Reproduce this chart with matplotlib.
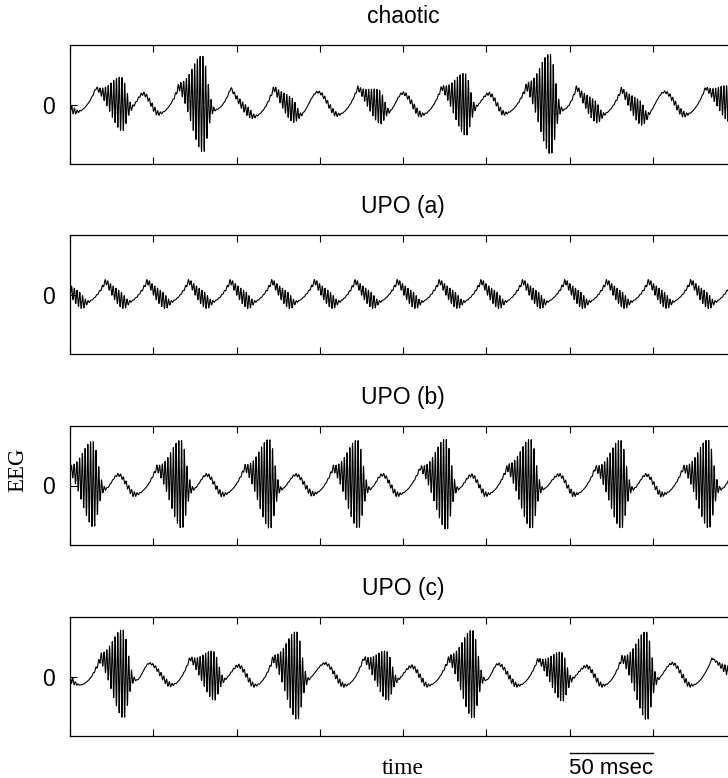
import numpy as np
import matplotlib
matplotlib.use("Agg")
import matplotlib.pyplot as plt

plt.rcParams['font.family'] = ['Liberation Sans', 'DejaVu Sans']

# ---------------- data (time in msec, EEG in arbitrary units) ----------------
titles = ["chaotic", "UPO (a)", "UPO (b)", "UPO (c)"]
x_ticks = [0, 50, 100, 150, 200, 250, 300, 350, 400]

# slow-wave knots: time, value, kind (c = sharp peak, h = rounded peak, t = trough)
chaotic_t = [-8, 4.2, 15.6, 36.6, 43.8, 53.4, 65.4, 87.0, 96.6, 110.4, 122.4, 138.0,
             148.8, 160.8, 172.8, 191.4, 199.8, 211.2, 223.2, 242.4, 251.4, 261.0,
             274.2, 295.8, 304.2, 318.6, 331.2, 345.6, 357.0, 369.6, 381.6, 405.0]
chaotic_v = [0.10, -0.12, 0.28, -0.05, 0.18, -0.15, 0.31, -0.09, 0.28, -0.20, 0.28, -0.18,
             0.21, -0.17, 0.28, -0.12, 0.19, -0.17, 0.29, -0.06, 0.18, -0.15,
             0.31, -0.09, 0.29, -0.18, 0.26, -0.20, 0.21, -0.17, 0.28, -0.10]
chaotic_k = "htcthtctctcthtcthtcthtctctcthtct"
chaotic_burst_t = [1, 31.2, 51, 79.8, 107, 133.5, 158, 186, 208.5, 237.6, 258.5,
                   288.6, 315.5, 342.5, 367, 396]
chaotic_burst_a = [0.06, 0.45, 0.05, 0.81, 0.08, 0.20, 0.05, 0.28, 0.06, 0.52, 0.05,
                   0.84, 0.18, 0.20, 0.06, 0.30]

upoa_t = [-3.6, 8.4, 21.4, 33.4, 46.4, 58.4, 71.4, 83.4, 96.4, 108.4, 121.4, 133.4,
          147.0, 159.0, 171.4, 183.4, 196.8, 208.8, 222.0, 234.0, 247.0, 259.0,
          272.0, 284.0, 297.4, 309.4, 322.4, 334.4, 347.6, 359.6, 373.0, 385.0,
          398.0, 410.0]
upoa_v = [0.23, -0.14] * 17
upoa_k = "ct" * 17
upoa_burst_t = [5.9, 30.9, 55.9, 80.9, 105.9, 130.9, 156.5, 180.9, 206.3, 231.5,
                256.5, 281.5, 306.9, 331.9, 357.1, 382.5, 407.5]
upoa_burst_a = [0.13] * 17

upob_t = [-1.0, 21, 29, 39, 52, 74, 82, 91.8, 105, 127, 135.6, 146, 158, 180, 187.6, 197,
          210.4, 233, 241, 250, 262.6, 284, 293.6, 303, 315.6, 338, 346, 355.6,
          368.4, 391, 399, 409]
upob_v = [0.30, -0.06, 0.18, -0.15, 0.30, -0.06, 0.18, -0.15, 0.31, -0.06, 0.18, -0.14,
          0.30, -0.06, 0.18, -0.15, 0.30, -0.06, 0.17, -0.15, 0.31, -0.06, 0.18, -0.15,
          0.30, -0.06, 0.18, -0.15, 0.30, -0.06, 0.18, -0.15]
upob_k = "cthtcthtcthtcthtcthtcthtcthtctht"
upob_burst_t = [14, 37, 67, 90, 120, 144, 173, 195, 226, 248, 277, 301, 331, 354, 383.6, 407]
upob_burst_a = [0.72, 0.05, 0.74, 0.05, 0.75, 0.05, 0.74, 0.05, 0.76, 0.05, 0.75, 0.05,
                0.74, 0.05, 0.74, 0.05]

upoc_t = [-10, 6, 18.4, 40, 47.6, 61, 72, 92, 101, 111, 122, 142, 153, 165,
          176.4, 196, 205, 215, 227.6, 250, 257, 269, 281, 300, 310, 320,
          331.4, 352, 361.6, 373, 385.6, 412]
upoc_v = [0.18, -0.14, 0.32, -0.06, 0.22, -0.14, 0.31, -0.06, 0.18, -0.15, 0.31, -0.06,
          0.22, -0.15, 0.31, -0.06, 0.17, -0.15, 0.31, -0.06, 0.21, -0.15, 0.29, -0.06,
          0.17, -0.15, 0.31, -0.06, 0.22, -0.15, 0.31, -0.15]
upoc_k = "htcthtcthtcthtcthtcthtcthtcthtct"
upoc_burst_t = [0, 32, 58, 86.4, 108, 136.4, 162, 190.5, 212, 242, 266, 295.5, 317,
                346.4, 370, 400]
upoc_burst_a = [0.06, 0.74, 0.05, 0.41, 0.05, 0.74, 0.05, 0.41, 0.05, 0.74, 0.05,
                0.41, 0.05, 0.74, 0.05, 0.12]

panels = [
    (chaotic_t, chaotic_v, chaotic_k, chaotic_burst_t, chaotic_burst_a),
    (upoa_t, upoa_v, upoa_k, upoa_burst_t, upoa_burst_a),
    (upob_t, upob_v, upob_k, upob_burst_t, upob_burst_a),
    (upoc_t, upoc_v, upoc_k, upoc_burst_t, upoc_burst_a),
]

FAST_PERIOD = 1.65   # msec, fast oscillation inside bursts
RISE_W, FALL_W = 9.0, 3.8


def build_signal(t, kt, kv, kk, bt, ba):
    y = np.zeros_like(t)
    for i in range(len(kt) - 1):
        t0, t1 = kt[i], kt[i + 1]
        v0, v1 = kv[i], kv[i + 1]
        m = (t >= t0) & (t <= t1)
        s = (t[m] - t0) / (t1 - t0)
        a, b = kk[i], kk[i + 1]
        if a == 't' and b == 'c':
            f = s ** 2
        elif a == 'c' and b == 't':
            f = 0.5 * s + 0.5 * (1 - (1 - s) ** 2)
        else:
            f = 3 * s ** 2 - 2 * s ** 3
        y[m] = v0 + (v1 - v0) * f
    for c, amp in zip(bt, ba):
        w = np.where(t < c, RISE_W, FALL_W)
        env = amp * np.exp(-((t - c) / w) ** 2)
        y += env * np.cos(2 * np.pi * (t - c) / FAST_PERIOD)
    return y


# ---------------- figure ----------------
W, H = 728, 778
fig = plt.figure(figsize=(W / 100, H / 100), dpi=100)
tops = [45, 235, 426, 617]
ph = 119
t = np.arange(0, 400.001, 0.02)

axes = []
for i, (title, p) in enumerate(zip(titles, panels)):
    ax = fig.add_axes([70 / W, 1 - (tops[i] + ph) / H, 666 / W, ph / H])
    y = build_signal(t, *p)
    ax.plot(t, y, color='black', lw=0.8)
    ax.set_xlim(0, 400)
    ax.set_ylim(-1, 1)
    ax.set_xticks(x_ticks)
    ax.set_yticks([0])
    ax.set_yticklabels(['0'])
    ax.tick_params(axis='x', direction='in', top=True, bottom=True,
                   labelbottom=False, length=5, width=0.8)
    ax.tick_params(axis='y', direction='in', left=True, right=False,
                   length=5, width=0.8, pad=11, labelsize=16.5)
    for sp in ax.spines.values():
        sp.set_linewidth(0.9)
    ax.set_title(title, fontsize=16.5, pad=16)
    axes.append(ax)

fig.text(18 / W, 1 - 470 / H, 'EEG', rotation=90, family=['Liberation Serif'],
         fontsize=16.5, ha='center', va='center')

ax = axes[-1]
tr = ax.get_xaxis_transform()
ax.plot([300, 350], [-17 / ph, -17 / ph], color='black', lw=1.0,
        transform=tr, clip_on=False)
ax.text(325, -38 / ph, '50 msec', transform=tr, ha='center', va='baseline',
        fontsize=16)
ax.text(200, -38 / ph, 'time', transform=tr, ha='center', va='baseline',
        fontsize=17, family=['Liberation Serif'])

fig.savefig('out.png', dpi=100)
